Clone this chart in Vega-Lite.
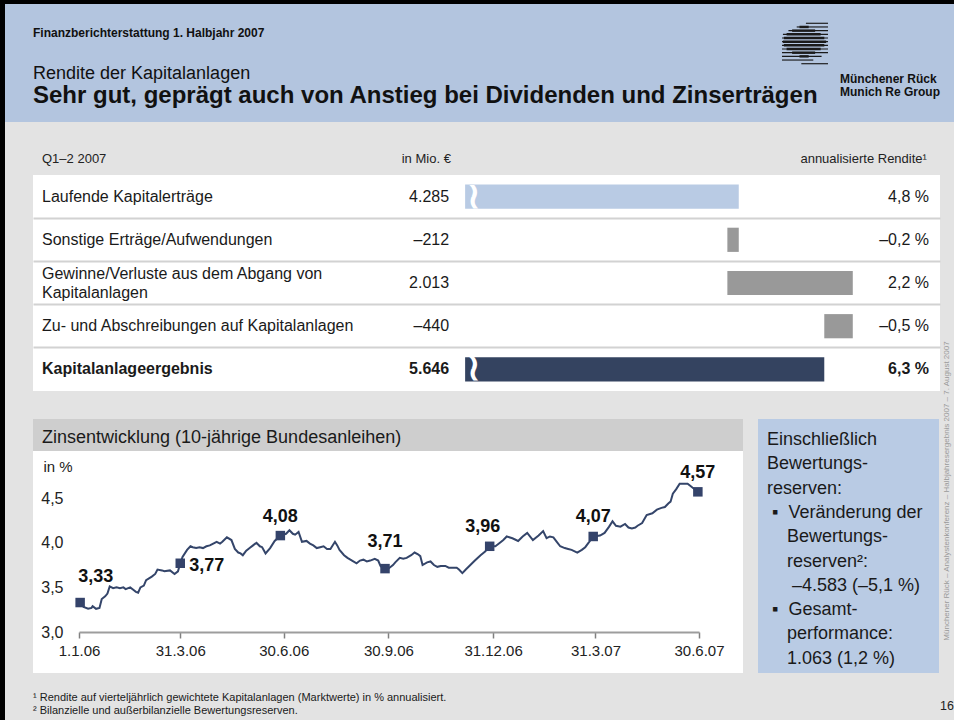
{
  "$schema": "https://vega.github.io/schema/vega-lite/v6.json",
  "background": "#e3e3e3",
  "padding": 0,
  "spacing": 0,
  "config": {
    "view": {"stroke": null},
    "font": "Liberation Sans",
    "concat": {"spacing": 0},
    "axis": {"minExtent": 0},
    "title": {"color": "#111111", "font": "Liberation Sans"},
    "locale": {"number": {"decimal": ",", "thousands": ".", "grouping": [3], "currency": ["", " €"], "minus": "–", "percent": " %"}}
  },
  "datasets": {
    "logo": [
      {"stripe": 1, "from": 0.52, "to": 1, "coreFrom": 0.52, "coreTo": 0.52},
      {"stripe": 2, "from": 0.32, "to": 1, "coreFrom": 0.38, "coreTo": 0.58},
      {"stripe": 3, "from": 0.14, "to": 1, "coreFrom": 0.22, "coreTo": 0.72},
      {"stripe": 4, "from": 0.02, "to": 1, "coreFrom": 0.1, "coreTo": 0.84},
      {"stripe": 5, "from": 0, "to": 1, "coreFrom": 0.04, "coreTo": 0.92},
      {"stripe": 6, "from": 0, "to": 1, "coreFrom": 0.02, "coreTo": 0.96},
      {"stripe": 7, "from": 0, "to": 1, "coreFrom": 0.04, "coreTo": 0.92},
      {"stripe": 8, "from": 0, "to": 1, "coreFrom": 0.1, "coreTo": 0.84},
      {"stripe": 9, "from": 0, "to": 1, "coreFrom": 0.22, "coreTo": 0.72},
      {"stripe": 10, "from": 0, "to": 0.86, "coreFrom": 0.38, "coreTo": 0.58},
      {"stripe": 11, "from": 0, "to": 0.68, "coreFrom": 0.5, "coreTo": 0.5},
      {"stripe": 12, "from": 0.42, "to": 1, "coreFrom": 0.42, "coreTo": 0.42}
    ],
    "table": [
      {"item": "Laufende Kapitalerträge", "mio": 4285, "rendite": 0.048, "start": 0, "end": 0.048, "kind": "laufend"},
      {"item": "Sonstige Erträge/Aufwendungen", "mio": -212, "rendite": -0.002, "start": 0.048, "end": 0.046, "kind": "komponente"},
      {"item": "Gewinne/Verluste aus dem Abgang von\nKapitalanlagen", "mio": 2013, "rendite": 0.022, "start": 0.046, "end": 0.068, "kind": "komponente"},
      {"item": "Zu- und Abschreibungen auf Kapitalanlagen", "mio": -440, "rendite": -0.005, "start": 0.068, "end": 0.063, "kind": "komponente"},
      {"item": "Kapitalanlageergebnis", "mio": 5646, "rendite": 0.063, "start": 0, "end": 0.063, "kind": "ergebnis"}
    ],
    "quarters": [
      {"date": "2006-01-02", "rate": 3.33},
      {"date": "2006-03-31", "rate": 3.77},
      {"date": "2006-06-27", "rate": 4.08},
      {"date": "2006-09-27", "rate": 3.71},
      {"date": "2006-12-28", "rate": 3.96},
      {"date": "2007-03-29", "rate": 4.07},
      {"date": "2007-06-29", "rate": 4.57}
    ],
    "rates": [
      {"date": "2006-01-02", "rate": 3.33}, {"date": "2006-01-05", "rate": 3.28}, {"date": "2006-01-09", "rate": 3.26},
      {"date": "2006-01-12", "rate": 3.27}, {"date": "2006-01-13", "rate": 3.29}, {"date": "2006-01-16", "rate": 3.26},
      {"date": "2006-01-19", "rate": 3.27}, {"date": "2006-01-21", "rate": 3.37}, {"date": "2006-01-24", "rate": 3.40},
      {"date": "2006-01-26", "rate": 3.43}, {"date": "2006-01-28", "rate": 3.51}, {"date": "2006-01-31", "rate": 3.49},
      {"date": "2006-02-03", "rate": 3.50}, {"date": "2006-02-06", "rate": 3.49}, {"date": "2006-02-09", "rate": 3.50},
      {"date": "2006-02-11", "rate": 3.48}, {"date": "2006-02-15", "rate": 3.50}, {"date": "2006-02-18", "rate": 3.47},
      {"date": "2006-02-20", "rate": 3.45}, {"date": "2006-02-22", "rate": 3.44}, {"date": "2006-02-24", "rate": 3.50},
      {"date": "2006-02-27", "rate": 3.52}, {"date": "2006-03-01", "rate": 3.58}, {"date": "2006-03-06", "rate": 3.62},
      {"date": "2006-03-09", "rate": 3.65}, {"date": "2006-03-11", "rate": 3.70}, {"date": "2006-03-15", "rate": 3.69},
      {"date": "2006-03-17", "rate": 3.68}, {"date": "2006-03-22", "rate": 3.69}, {"date": "2006-03-26", "rate": 3.65},
      {"date": "2006-03-29", "rate": 3.68}, {"date": "2006-03-31", "rate": 3.77}, {"date": "2006-04-02", "rate": 3.84},
      {"date": "2006-04-06", "rate": 3.92}, {"date": "2006-04-09", "rate": 3.96}, {"date": "2006-04-11", "rate": 3.95},
      {"date": "2006-04-14", "rate": 3.94}, {"date": "2006-04-17", "rate": 3.95}, {"date": "2006-04-20", "rate": 3.94},
      {"date": "2006-04-23", "rate": 3.96}, {"date": "2006-04-26", "rate": 3.97}, {"date": "2006-04-29", "rate": 3.99},
      {"date": "2006-05-02", "rate": 4.01}, {"date": "2006-05-05", "rate": 3.99}, {"date": "2006-05-07", "rate": 4.01},
      {"date": "2006-05-11", "rate": 4.06}, {"date": "2006-05-15", "rate": 4.03}, {"date": "2006-05-18", "rate": 3.93},
      {"date": "2006-05-21", "rate": 3.89}, {"date": "2006-05-23", "rate": 3.88}, {"date": "2006-05-25", "rate": 3.86},
      {"date": "2006-05-28", "rate": 3.91}, {"date": "2006-05-31", "rate": 3.94}, {"date": "2006-06-03", "rate": 3.97},
      {"date": "2006-06-06", "rate": 4.00}, {"date": "2006-06-09", "rate": 3.96}, {"date": "2006-06-11", "rate": 3.95},
      {"date": "2006-06-14", "rate": 3.88}, {"date": "2006-06-18", "rate": 3.94}, {"date": "2006-06-22", "rate": 4.02},
      {"date": "2006-06-27", "rate": 4.08}, {"date": "2006-07-02", "rate": 4.10}, {"date": "2006-07-05", "rate": 4.14},
      {"date": "2006-07-08", "rate": 4.10}, {"date": "2006-07-10", "rate": 4.09}, {"date": "2006-07-13", "rate": 4.12},
      {"date": "2006-07-16", "rate": 4.01}, {"date": "2006-07-20", "rate": 4.02}, {"date": "2006-07-23", "rate": 3.99},
      {"date": "2006-07-26", "rate": 3.97}, {"date": "2006-07-29", "rate": 3.94}, {"date": "2006-08-01", "rate": 3.95},
      {"date": "2006-08-04", "rate": 3.96}, {"date": "2006-08-07", "rate": 3.93}, {"date": "2006-08-10", "rate": 3.93},
      {"date": "2006-08-14", "rate": 4.01}, {"date": "2006-08-16", "rate": 3.97}, {"date": "2006-08-18", "rate": 3.92},
      {"date": "2006-08-22", "rate": 3.86}, {"date": "2006-08-25", "rate": 3.83}, {"date": "2006-08-29", "rate": 3.80},
      {"date": "2006-09-02", "rate": 3.77}, {"date": "2006-09-05", "rate": 3.80}, {"date": "2006-09-08", "rate": 3.81},
      {"date": "2006-09-11", "rate": 3.79}, {"date": "2006-09-14", "rate": 3.80}, {"date": "2006-09-18", "rate": 3.82},
      {"date": "2006-09-21", "rate": 3.80}, {"date": "2006-09-23", "rate": 3.74}, {"date": "2006-09-27", "rate": 3.69},
      {"date": "2006-10-01", "rate": 3.72}, {"date": "2006-10-04", "rate": 3.75}, {"date": "2006-10-06", "rate": 3.78},
      {"date": "2006-10-10", "rate": 3.83}, {"date": "2006-10-13", "rate": 3.82}, {"date": "2006-10-16", "rate": 3.83},
      {"date": "2006-10-20", "rate": 3.86}, {"date": "2006-10-23", "rate": 3.89}, {"date": "2006-10-26", "rate": 3.87},
      {"date": "2006-10-28", "rate": 3.85}, {"date": "2006-10-30", "rate": 3.75}, {"date": "2006-11-03", "rate": 3.78},
      {"date": "2006-11-06", "rate": 3.79}, {"date": "2006-11-09", "rate": 3.75}, {"date": "2006-11-12", "rate": 3.73},
      {"date": "2006-11-15", "rate": 3.74}, {"date": "2006-11-19", "rate": 3.74}, {"date": "2006-11-22", "rate": 3.72},
      {"date": "2006-11-25", "rate": 3.72}, {"date": "2006-11-29", "rate": 3.72}, {"date": "2006-12-01", "rate": 3.70},
      {"date": "2006-12-04", "rate": 3.66}, {"date": "2006-12-07", "rate": 3.70}, {"date": "2006-12-11", "rate": 3.75},
      {"date": "2006-12-15", "rate": 3.80}, {"date": "2006-12-20", "rate": 3.86}, {"date": "2006-12-24", "rate": 3.90},
      {"date": "2006-12-28", "rate": 3.96}, {"date": "2007-01-02", "rate": 3.96}, {"date": "2007-01-06", "rate": 4.00},
      {"date": "2007-01-09", "rate": 4.03}, {"date": "2007-01-12", "rate": 4.07}, {"date": "2007-01-17", "rate": 4.05},
      {"date": "2007-01-22", "rate": 4.02}, {"date": "2007-01-26", "rate": 4.07}, {"date": "2007-01-30", "rate": 4.11},
      {"date": "2007-02-04", "rate": 4.03}, {"date": "2007-02-09", "rate": 4.08}, {"date": "2007-02-13", "rate": 4.13},
      {"date": "2007-02-16", "rate": 4.05}, {"date": "2007-02-19", "rate": 4.07}, {"date": "2007-02-22", "rate": 4.06},
      {"date": "2007-02-25", "rate": 4.01}, {"date": "2007-02-28", "rate": 3.96}, {"date": "2007-03-04", "rate": 3.94},
      {"date": "2007-03-07", "rate": 3.93}, {"date": "2007-03-10", "rate": 3.92}, {"date": "2007-03-15", "rate": 3.89},
      {"date": "2007-03-19", "rate": 3.92}, {"date": "2007-03-22", "rate": 3.95}, {"date": "2007-03-25", "rate": 4.00},
      {"date": "2007-03-29", "rate": 4.07}, {"date": "2007-04-04", "rate": 4.08}, {"date": "2007-04-08", "rate": 4.11},
      {"date": "2007-04-12", "rate": 4.18}, {"date": "2007-04-15", "rate": 4.24}, {"date": "2007-04-18", "rate": 4.19},
      {"date": "2007-04-22", "rate": 4.18}, {"date": "2007-04-26", "rate": 4.21}, {"date": "2007-04-29", "rate": 4.17},
      {"date": "2007-05-02", "rate": 4.16}, {"date": "2007-05-05", "rate": 4.17}, {"date": "2007-05-07", "rate": 4.19},
      {"date": "2007-05-11", "rate": 4.22}, {"date": "2007-05-15", "rate": 4.31}, {"date": "2007-05-20", "rate": 4.33},
      {"date": "2007-05-24", "rate": 4.37}, {"date": "2007-05-28", "rate": 4.39}, {"date": "2007-05-31", "rate": 4.40},
      {"date": "2007-06-03", "rate": 4.44}, {"date": "2007-06-05", "rate": 4.46}, {"date": "2007-06-07", "rate": 4.55},
      {"date": "2007-06-10", "rate": 4.60}, {"date": "2007-06-13", "rate": 4.66}, {"date": "2007-06-17", "rate": 4.66},
      {"date": "2007-06-20", "rate": 4.66}, {"date": "2007-06-22", "rate": 4.64}, {"date": "2007-06-25", "rate": 4.61},
      {"date": "2007-06-29", "rate": 4.57}
    ]
  },
  "hconcat": [
    {"width": 5, "height": 720, "view": {"fill": "#000000"}, "data": {"values": []}, "mark": "point"},
    {
      "spacing": 0,
      "vconcat": [
        {"width": 949, "height": 4, "view": {"fill": "#000000"}, "data": {"values": []}, "mark": "point"},
        {
          "spacing": 0,
          "hconcat": [
            {
              "width": 777, "height": 61, "view": {"fill": "#b3c5df"},
              "data": {"values": []}, "mark": "point",
              "title": {"text": "Finanzberichterstattung 1. Halbjahr 2007", "orient": "bottom", "anchor": "start", "frame": "group", "baseline": "top", "offset": -37, "dx": 28, "fontSize": 12, "fontWeight": "bold"}
            },
            {
              "width": 46, "height": 61, "view": {"fill": "#b3c5df"},
              "data": {"name": "logo"},
              "encoding": {
                "y": {"field": "stripe", "type": "ordinal", "scale": {"range": [18, 61], "paddingInner": 0.3, "paddingOuter": 0}, "axis": null}
              },
              "layer": [
                {"mark": {"type": "bar", "color": "#1a1a1a", "height": {"band": 0.45}},
                 "encoding": {
                   "x": {"field": "from", "type": "quantitative", "scale": {"domain": [0, 1], "nice": false, "zero": false}, "axis": null},
                   "x2": {"field": "to"}
                 }},
                {"mark": {"type": "bar", "color": "#1a1a1a", "height": {"band": 0.95}},
                 "encoding": {
                   "x": {"field": "coreFrom", "type": "quantitative", "scale": {"domain": [0, 1], "nice": false, "zero": false}, "axis": null},
                   "x2": {"field": "coreTo"}
                 }}
              ]
            },
            {"width": 126, "height": 61, "view": {"fill": "#b3c5df"}, "data": {"values": []}, "mark": "point"}
          ]
        },
        {
          "spacing": 0,
          "hconcat": [
            {
              "width": 835, "height": 57, "view": {"fill": "#b3c5df"},
              "data": {"values": []}, "mark": "point",
              "title": {
                "text": "Rendite der Kapitalanlagen",
                "subtitle": "Sehr gut, geprägt auch von Anstieg bei Dividenden und Zinserträgen",
                "orient": "bottom", "anchor": "start", "frame": "group", "baseline": "top",
                "offset": -57, "dx": 28, "fontSize": 18, "fontWeight": "normal",
                "subtitleFontSize": 24, "subtitleFontWeight": "bold", "subtitleColor": "#111111", "subtitleFont": "Liberation Sans", "subtitlePadding": 1
              }
            },
            {
              "width": 114, "height": 57, "view": {"fill": "#b3c5df"},
              "data": {"values": []}, "mark": "point",
              "title": {"text": ["Münchener Rück", "Munich Re Group"], "orient": "bottom", "anchor": "start", "frame": "group", "baseline": "top", "offset": -48, "dx": 0, "fontSize": 12, "fontWeight": "bold", "lineHeight": 13}
            }
          ]
        },
        {
          "spacing": 0,
          "hconcat": [
            {
              "spacing": 0,
              "vconcat": [
                {
                  "spacing": 0,
                  "hconcat": [
                    {"width": 28, "height": 1, "data": {"values": []}, "mark": "point"},
                    {
                      "spacing": 0,
                      "vconcat": [
                        {"width": 907, "height": 20, "data": {"values": []}, "mark": "point"},
                        {
                          "width": 907, "height": 33,
                          "data": {"values": [{}]},
                          "layer": [
                            {"mark": {"type": "text", "text": "Q1–2 2007", "align": "left", "baseline": "middle", "fontSize": 13, "color": "#222222"},
                             "encoding": {"x": {"datum": -0.07422, "type": "quantitative", "scale": {"domain": [-0.0758, 0.0833], "nice": false, "zero": false}, "axis": null}}},
                            {"mark": {"type": "text", "text": "in Mio. €", "align": "right", "baseline": "middle", "fontSize": 13, "color": "#222222"},
                             "encoding": {"x": {"datum": -0.0025, "type": "quantitative", "scale": {"domain": [-0.0758, 0.0833], "nice": false, "zero": false}, "axis": null}}},
                            {"mark": {"type": "text", "text": "annualisierte Rendite¹", "align": "right", "baseline": "middle", "fontSize": 13, "color": "#222222"},
                             "encoding": {"x": {"datum": 0.0810, "type": "quantitative", "scale": {"domain": [-0.0758, 0.0833], "nice": false, "zero": false}, "axis": null}}}
                          ]
                        },
                        {
                          "width": 907, "height": 216, "view": {"fill": "#ffffff"},
                          "data": {"name": "table"},
                          "encoding": {
                            "y": {"field": "item", "type": "nominal", "sort": null,
                                  "scale": {"paddingInner": 0, "paddingOuter": 0},
                                  "axis": {"labels": false, "ticks": false, "domain": false, "title": null, "grid": true, "bandPosition": 0,
                                           "gridColor": {"condition": {"test": "datum.value === 'Laufende Kapitalerträge'", "value": "transparent"}, "value": "#d2d2d2"},
                                           "gridWidth": 2}}
                          },
                          "layer": [
                            {"mark": {"type": "bar", "height": {"band": 0.56}},
                             "encoding": {
                               "x": {"field": "start", "type": "quantitative", "scale": {"domain": [-0.0758, 0.0833], "nice": false, "zero": false}, "axis": null},
                               "x2": {"field": "end"},
                               "color": {"field": "kind", "type": "nominal", "scale": {"domain": ["laufend", "komponente", "ergebnis"], "range": ["#b9cbe4", "#999999", "#344360"]}, "legend": null}
                             }},
                            {"transform": [{"filter": "datum.start === 0"}],
                             "mark": {"type": "text", "text": "≀", "color": "#ffffff", "fontSize": 36, "fontWeight": "bold", "dx": 9, "baseline": "middle"},
                             "encoding": {"x": {"field": "start", "type": "quantitative", "scale": {"domain": [-0.0758, 0.0833], "nice": false, "zero": false}, "axis": null}}},
                            {"transform": [{"filter": "datum.kind !== 'ergebnis' && indexof(datum.item, '\\n') < 0"}],
                             "mark": {"type": "text", "align": "left", "baseline": "middle", "fontSize": 16, "color": "#1a1a1a"},
                             "encoding": {"x": {"datum": -0.07422, "type": "quantitative", "scale": {"domain": [-0.0758, 0.0833], "nice": false, "zero": false}, "axis": null}, "text": {"field": "item"}}},
                            {"transform": [{"filter": "indexof(datum.item, '\\n') >= 0"}],
                             "mark": {"type": "text", "align": "left", "baseline": "middle", "fontSize": 16, "lineBreak": "\n", "lineHeight": 19, "dy": -9.5, "color": "#1a1a1a"},
                             "encoding": {"x": {"datum": -0.07422, "type": "quantitative", "scale": {"domain": [-0.0758, 0.0833], "nice": false, "zero": false}, "axis": null}, "text": {"field": "item"}}},
                            {"transform": [{"filter": "datum.kind === 'ergebnis'"}],
                             "mark": {"type": "text", "align": "left", "baseline": "middle", "fontSize": 16, "fontWeight": "bold", "color": "#1a1a1a"},
                             "encoding": {"x": {"datum": -0.07422, "type": "quantitative", "scale": {"domain": [-0.0758, 0.0833], "nice": false, "zero": false}, "axis": null}, "text": {"field": "item"}}},
                            {"transform": [{"filter": "datum.kind !== 'ergebnis'"}],
                             "mark": {"type": "text", "align": "right", "baseline": "middle", "fontSize": 16, "color": "#1a1a1a"},
                             "encoding": {"x": {"datum": -0.0028, "type": "quantitative", "scale": {"domain": [-0.0758, 0.0833], "nice": false, "zero": false}, "axis": null}, "text": {"field": "mio", "type": "quantitative", "format": ",d"}}},
                            {"transform": [{"filter": "datum.kind === 'ergebnis'"}],
                             "mark": {"type": "text", "align": "right", "baseline": "middle", "fontSize": 16, "fontWeight": "bold", "color": "#1a1a1a"},
                             "encoding": {"x": {"datum": -0.0028, "type": "quantitative", "scale": {"domain": [-0.0758, 0.0833], "nice": false, "zero": false}, "axis": null}, "text": {"field": "mio", "type": "quantitative", "format": ",d"}}},
                            {"transform": [{"filter": "datum.kind !== 'ergebnis'"}],
                             "mark": {"type": "text", "align": "right", "baseline": "middle", "fontSize": 16, "color": "#1a1a1a"},
                             "encoding": {"x": {"datum": 0.08137, "type": "quantitative", "scale": {"domain": [-0.0758, 0.0833], "nice": false, "zero": false}, "axis": null}, "text": {"field": "rendite", "type": "quantitative", "format": ".1%"}}},
                            {"transform": [{"filter": "datum.kind === 'ergebnis'"}],
                             "mark": {"type": "text", "align": "right", "baseline": "middle", "fontSize": 16, "fontWeight": "bold", "color": "#1a1a1a"},
                             "encoding": {"x": {"datum": 0.08137, "type": "quantitative", "scale": {"domain": [-0.0758, 0.0833], "nice": false, "zero": false}, "axis": null}, "text": {"field": "rendite", "type": "quantitative", "format": ".1%"}}}
                          ]
                        }
                      ]
                    }
                  ]
                },
                {"width": 935, "height": 28, "data": {"values": []}, "mark": "point"},
                {
                  "spacing": 0,
                  "hconcat": [
                    {"width": 28, "height": 1, "data": {"values": []}, "mark": "point"},
                    {
                      "spacing": 0,
                      "vconcat": [
                        {
                          "width": 710, "height": 32, "view": {"fill": "#cecece"},
                          "data": {"values": []}, "mark": "point",
                          "title": {"text": "Zinsentwicklung (10-jährige Bundesanleihen)", "orient": "bottom", "anchor": "start", "frame": "group", "baseline": "top", "offset": -22, "dx": 9, "fontSize": 18, "fontWeight": "normal", "color": "#1a1a1a"}
                        },
                        {
                          "width": 710, "height": 222, "view": {"fill": "#ffffff"},
                          "encoding": {
                            "x": {"field": "date", "type": "temporal",
                                  "scale": {"type": "utc", "domain": [{"year": 2006, "month": 1, "date": 1, "utc": true}, {"year": 2007, "month": 6, "date": 30, "utc": true}], "range": [46, 666]},
                                  "axis": {
                                    "values": [
                                      {"year": 2006, "month": 1, "date": 1, "utc": true},
                                      {"year": 2006, "month": 3, "date": 31, "utc": true},
                                      {"year": 2006, "month": 6, "date": 30, "utc": true},
                                      {"year": 2006, "month": 9, "date": 30, "utc": true},
                                      {"year": 2006, "month": 12, "date": 31, "utc": true},
                                      {"year": 2007, "month": 3, "date": 31, "utc": true},
                                      {"year": 2007, "month": 6, "date": 30, "utc": true}
                                    ],
                                    "format": "%-d.%-m.%y", "title": null, "offset": -41, "grid": false,
                                    "domainColor": "#9d9d9d", "domainWidth": 2, "tickColor": "#808080", "tickSize": 6, "tickWidth": 1.5,
                                    "labelFontSize": 15, "labelColor": "#222222", "labelPadding": 5, "labelFlush": false, "labelOverlap": false, "labelBound": false
                                  }},
                            "y": {"field": "rate", "type": "quantitative",
                                  "scale": {"domain": [3, 4.8], "range": [181, 20.3], "nice": false, "zero": false},
                                  "axis": {
                                    "values": [3, 3.5, 4, 4.5], "format": ".1f", "title": "in %",
                                    "titleAngle": 0, "titleAlign": "left", "titleBaseline": "middle", "titleX": -22, "titleY": 15,
                                    "titleFontSize": 15, "titleFontWeight": "normal", "titleColor": "#222222",
                                    "offset": -32, "domain": false, "ticks": false, "tickSize": 0, "grid": false,
                                    "labelPadding": 2, "labelFontSize": 16, "labelColor": "#222222", "labelBaseline": "middle"
                                  }}
                          },
                          "layer": [
                            {"data": {"values": [{"rate": 3.5}, {"rate": 4.0}, {"rate": 4.5}]},
                             "mark": {"type": "rule", "color": "#b9b9b9", "strokeWidth": 1.5},
                             "encoding": {"x": {"datum": {"year": 2006, "month": 1, "date": 1, "utc": true}, "type": "temporal"}, "x2": {"datum": {"year": 2007, "month": 6, "date": 30, "utc": true}}}},
                            {"data": {"name": "rates"}, "mark": {"type": "line", "color": "#34456a", "strokeWidth": 2}},
                            {"data": {"name": "quarters"}, "mark": {"type": "square", "size": 90, "color": "#34436a", "opacity": 1, "filled": true}},
                            {"data": {"name": "quarters"}, "transform": [{"filter": "datum.rate === 4.08 || datum.rate === 4.07 || datum.rate === 4.57"}],
                             "mark": {"type": "text", "fontSize": 18, "fontWeight": "bold", "color": "#111111", "align": "center", "baseline": "middle", "dy": -19},
                             "encoding": {"text": {"field": "rate", "type": "quantitative", "format": ".2f"}}},
                            {"data": {"name": "quarters"}, "transform": [{"filter": "datum.rate === 3.96"}],
                             "mark": {"type": "text", "fontSize": 18, "fontWeight": "bold", "color": "#111111", "align": "center", "baseline": "middle", "dy": -19, "dx": -7},
                             "encoding": {"text": {"field": "rate", "type": "quantitative", "format": ".2f"}}},
                            {"data": {"name": "quarters"}, "transform": [{"filter": "datum.rate === 3.71"}],
                             "mark": {"type": "text", "fontSize": 18, "fontWeight": "bold", "color": "#ffffff", "stroke": "#ffffff", "strokeWidth": 10, "align": "center", "baseline": "middle", "dy": -27},
                             "encoding": {"text": {"field": "rate", "type": "quantitative", "format": ".2f"}}},
                            {"data": {"name": "quarters"}, "transform": [{"filter": "datum.rate === 3.71"}],
                             "mark": {"type": "text", "fontSize": 18, "fontWeight": "bold", "color": "#111111", "align": "center", "baseline": "middle", "dy": -27},
                             "encoding": {"text": {"field": "rate", "type": "quantitative", "format": ".2f"}}},
                            {"data": {"name": "quarters"}, "transform": [{"filter": "datum.rate === 3.77"}],
                             "mark": {"type": "text", "fontSize": 18, "fontWeight": "bold", "color": "#111111", "align": "left", "baseline": "middle", "dx": 9, "dy": 3},
                             "encoding": {"text": {"field": "rate", "type": "quantitative", "format": ".2f"}}},
                            {"data": {"name": "quarters"}, "transform": [{"filter": "datum.rate === 3.33"}],
                             "mark": {"type": "text", "fontSize": 18, "fontWeight": "bold", "color": "#111111", "align": "left", "baseline": "middle", "dx": -2, "dy": -26},
                             "encoding": {"text": {"field": "rate", "type": "quantitative", "format": ".2f"}}}
                          ]
                        }
                      ]
                    },
                    {"width": 15, "height": 1, "data": {"values": []}, "mark": "point"},
                    {
                      "width": 181, "height": 254, "view": {"fill": "#b9cbe4"},
                      "data": {"values": []}, "mark": "point",
                      "title": {
                        "text": [
                          "Einschließlich",
                          "Bewertungs-",
                          "reserven:",
                          "\u200b\u00a0▪\u00a0\u00a0Veränderung der",
                          "\u200b\u00a0\u00a0\u00a0\u00a0Bewertungs-",
                          "\u200b\u00a0\u00a0\u00a0\u00a0reserven²:",
                          "\u200b\u00a0\u00a0\u00a0\u00a0\u00a0–4.583 (–5,1 %)",
                          "\u200b\u00a0▪\u00a0\u00a0Gesamt-",
                          "\u200b\u00a0\u00a0\u00a0\u00a0performance:",
                          "\u200b\u00a0\u00a0\u00a0\u00a01.063 (1,2 %)"
                        ],
                        "orient": "bottom", "anchor": "start", "frame": "group", "baseline": "top",
                        "offset": -242, "dx": 9, "fontSize": 18, "fontWeight": "normal", "lineHeight": 24.3, "color": "#1a1a1a"
                      }
                    }
                  ]
                },
                {
                  "width": 935, "height": 47,
                  "data": {"values": []}, "mark": "point",
                  "title": {
                    "text": ["¹ Rendite auf vierteljährlich gewichtete Kapitalanlagen (Marktwerte) in % annualisiert.", "² Bilanzielle und außerbilanzielle Bewertungsreserven."],
                    "orient": "bottom", "anchor": "start", "frame": "group", "baseline": "top",
                    "offset": -28, "dx": 28, "fontSize": 11, "fontWeight": "normal", "lineHeight": 13, "color": "#1a1a1a"
                  }
                }
              ]
            },
            {
              "spacing": 0,
              "vconcat": [
                {"width": 14, "height": 168, "data": {"values": []}, "mark": "point"},
                {"width": 14, "height": 402, "data": {"values": [{}]},
                 "mark": {"type": "text", "text": "Münchener Rück – Analystenkonferenz – Halbjahresergebnis 2007 – 7. August 2007", "angle": 270, "fontSize": 8, "color": "#9a9a9a", "align": "center", "baseline": "middle"}},
                {"width": 14, "height": 28, "data": {"values": [{}]},
                 "mark": {"type": "text", "text": "16", "fontSize": 12.5, "color": "#222222", "align": "center", "baseline": "middle"}}
              ]
            }
          ]
        }
      ]
    }
  ]
}
